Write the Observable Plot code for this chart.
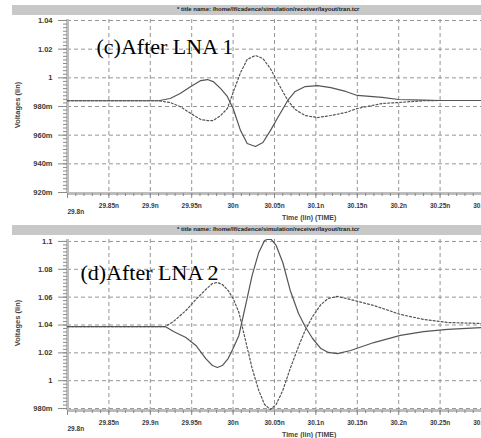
<!DOCTYPE html>
<html><head><meta charset="utf-8">
<script src="https://cdn.jsdelivr.net/npm/d3@7"></script>
<script src="https://cdn.jsdelivr.net/npm/@observablehq/plot@0.6"></script>
<style>
html,body{margin:0;padding:0;background:#fff;}
#wrap{position:relative;width:481px;height:438px;overflow:hidden;background:#fff;font-family:"Liberation Sans",Arial,sans-serif;}
.panel{position:absolute;left:0;width:481px;height:219px;}
.bar{position:absolute;left:12px;width:469px;height:10px;background:#c8c8c8;}
.bar span{position:absolute;left:165px;top:1px;font-size:6px;font-weight:bold;color:#222;white-space:nowrap;}
.ytitle{position:absolute;font-size:7.5px;font-weight:bold;color:#444;transform:translate(-50%,-50%) rotate(-90deg);white-space:nowrap;}
.xtitle{position:absolute;font-size:7px;font-weight:bold;color:#444;white-space:nowrap;transform:translate(0,-50%);}
</style>
</head><body>
<div id="wrap"></div>
<script>
// ---- data ----
const xTicks = [29.8, 29.85, 29.9, 29.95, 30.0, 30.05, 30.1, 30.15, 30.2, 30.25, 30.3];
const xTickLabels = ["29.8n", "29.85n", "29.9n", "29.95n", "30n", "30.05n", "30.1n", "30.15n", "30.2n", "30.25n", "30.3n"];

const yTicksC = [1.04, 1.02, 1.0, 0.98, 0.96, 0.94, 0.92];
const yLabelsC = ["1.04", "1.02", "1", "980m", "960m", "940m", "920m"];
const yTicksD = [1.1, 1.08, 1.06, 1.04, 1.02, 1.0, 0.98];
const yLabelsD = ["1.1", "1.08", "1.06", "1.04", "1.02", "1", "980m"];

// (c) After LNA 1 — time in ns
const tC = [29.80, 29.91, 29.924, 29.936, 29.949, 29.961, 29.969, 29.976, 29.985, 29.993, 30.000, 30.009, 30.017, 30.027, 30.036, 30.045, 30.054, 30.066, 30.075, 30.087, 30.102, 30.118, 30.136, 30.150, 30.180, 30.200, 30.230, 30.250, 30.300];
const vC1 = [0.984, 0.984, 0.9856, 0.9891, 0.9939, 0.9981, 0.9988, 0.9974, 0.9925, 0.9870, 0.9786, 0.9632, 0.9542, 0.9521, 0.9549, 0.9632, 0.9723, 0.9842, 0.9905, 0.9939, 0.9946, 0.9932, 0.9905, 0.9877, 0.9863, 0.9849, 0.9845, 0.9842, 0.9842];
const vC2 = [0.984, 0.984, 0.9828, 0.9800, 0.9751, 0.9709, 0.9702, 0.9702, 0.9737, 0.9786, 0.9898, 1.0037, 1.0128, 1.0156, 1.0135, 1.0065, 0.9967, 0.9842, 0.9779, 0.9737, 0.9723, 0.9737, 0.9758, 0.9786, 0.9821, 0.9828, 0.9840, 0.9842, 0.9842];

// (d) After LNA 2
const tD = [29.800, 29.918, 29.928, 29.943, 29.955, 29.967, 29.975, 29.981, 29.987, 29.994, 30.000, 30.007, 30.015, 30.023, 30.031, 30.038, 30.045, 30.052, 30.060, 30.069, 30.079, 30.087, 30.096, 30.106, 30.115, 30.126, 30.142, 30.170, 30.202, 30.230, 30.259, 30.300];
const vD1 = [1.0389, 1.0389, 1.0425, 1.0504, 1.0583, 1.0655, 1.0698, 1.0705, 1.0691, 1.0648, 1.0591, 1.0490, 1.0289, 1.0088, 0.9930, 0.9829, 0.9793, 0.9829, 0.9930, 1.0088, 1.0246, 1.0361, 1.0461, 1.0547, 1.0591, 1.0605, 1.0583, 1.0540, 1.0476, 1.0440, 1.0418, 1.0411];
const vD2 = [1.0389, 1.0389, 1.0353, 1.0310, 1.0253, 1.0159, 1.0109, 1.0095, 1.0109, 1.0159, 1.0231, 1.0325, 1.0540, 1.0756, 1.0921, 1.1007, 1.1022, 1.0971, 1.0849, 1.0648, 1.0483, 1.0389, 1.0303, 1.0231, 1.0203, 1.0195, 1.0217, 1.0274, 1.0325, 1.0353, 1.0368, 1.0382];

const panelTitles = ["(c)After LNA 1", "(d)After LNA 2"];
const barText = "* title name: /home/lf/cadence/simulation/receiver/layout/tran.tcr";
const yTitle = "Voltages (lin)";
const xTitle = "Time (lin) (TIME)";

// ---- drawing ----
const xLabelMap = new Map(xTicks.map((d, i) => [d, xTickLabels[i]]));
const minorX = d3.range(0, 51).map(i => +(29.8 + i * 0.01).toFixed(3));

function panel(cfg) {
  const lab = new Map(cfg.yTicks.map((d, i) => [d, cfg.yLabels[i]]));
  const [y0, y1] = cfg.yDomain;
  const minorY = d3.range(0, Math.round((y1 - y0) / 0.0025) + 1).map(i => y0 + i * 0.0025);
  const rows = [];
  cfg.t.forEach((t, i) => rows.push({t, v: cfg.v1[i], s: "a"}));
  cfg.t.forEach((t, i) => rows.push({t, v: cfg.v2[i], s: "b"}));
  const gridStyle = {stroke: "#959595", strokeOpacity: 1, strokeWidth: 1, strokeDasharray: "4,3"};
  const tickText = {fontSize: 7.5, fontWeight: "bold", fill: "#3a3a3a"};
  return Plot.plot({
    width: 481, height: 219,
    marginLeft: 67, marginRight: 0, marginTop: cfg.mt, marginBottom: cfg.mb,
    style: {background: "transparent", fontFamily: "'Liberation Sans', Arial, sans-serif", overflow: "visible"},
    x: {domain: [29.8, 30.3], label: null},
    y: {domain: cfg.yDomainPad, label: null},
    marks: [
      Plot.gridY(cfg.yTicks, gridStyle),
      Plot.gridX(xTicks.slice(1), gridStyle),
      Plot.ruleX([29.8], {stroke: "#bdbdbd", strokeWidth: 3}),
      Plot.ruleY([cfg.yDomainPad[0]], {stroke: "#bdbdbd", strokeWidth: 3}),
      Plot.axisY(minorY, {tickSize: 4, tickFormat: () => "", stroke: "#8a8a8a"}),
      Plot.axisY(cfg.yTicks, {tickSize: 9, tickPadding: 6, stroke: "#8a8a8a", tickFormat: d => lab.get(d), ...tickText}),
      Plot.axisX(minorX, {tickSize: 3, tickFormat: () => "", stroke: "#8a8a8a"}),
      Plot.axisX(xTicks.slice(1), {tickSize: 5, tickPadding: 5, stroke: "#8a8a8a", tickFormat: d => xLabelMap.get(d), ...tickText, fontSize: 6.5}),
      Plot.axisX([29.8], {tickSize: 5, tickPadding: 11, stroke: "#8a8a8a", textAnchor: "start", tickFormat: d => xLabelMap.get(d), ...tickText, fontSize: 6.5}),
      Plot.line(rows.filter(d => d.s === "a"), {x: "t", y: "v", stroke: "#555", strokeWidth: 1.2, strokeDasharray: cfg.dashA, clip: true}),
      Plot.line(rows.filter(d => d.s === "b"), {x: "t", y: "v", stroke: "#555", strokeWidth: 1.2, strokeDasharray: cfg.dashB, clip: true}),
      Plot.text([cfg.title], {frameAnchor: "top-left", dx: cfg.tdx, dy: cfg.tdy, lineAnchor: "top", textAnchor: "start",
        fontFamily: "'Liberation Serif', 'Times New Roman', serif", fontSize: 22, fill: "#000"})
    ]
  });
}

const wrap = document.getElementById("wrap");
const cfgs = [
  {top: 0, t: tC, v1: vC1, v2: vC2, yTicks: yTicksC, yLabels: yLabelsC, yDomain: [0.92, 1.04], yDomainPad: [0.9193, 1.0407],
   mt: 19, mb: 26, dashA: null, dashB: "2,2", title: panelTitles[0], tdx: 29, tdy: 19, barTop: 5, ytc: 105, xtt: 217},
  {top: 219, t: tD, v1: vD1, v2: vD2, yTicks: yTicksD, yLabels: yLabelsD, yDomain: [0.98, 1.1], yDomainPad: [0.9786, 1.1014],
   mt: 20, mb: 28, dashA: "2,2", dashB: null, title: panelTitles[1], tdx: 13, tdy: 25, barTop: 6, ytc: 104, xtt: 215}
];
cfgs.forEach(cfg => {
  const p = document.createElement("div");
  p.className = "panel";
  p.style.top = cfg.top + "px";
  const bar = document.createElement("div");
  bar.className = "bar";
  bar.style.top = cfg.barTop + "px";
  bar.innerHTML = "<span></span>";
  bar.firstChild.textContent = barText;
  p.appendChild(bar);
  const svg = panel(cfg);
  svg.style.position = "absolute";
  svg.style.left = "0px";
  svg.style.top = "0px";
  p.appendChild(svg);
  const yt = document.createElement("div");
  yt.className = "ytitle";
  yt.style.left = "17px";
  yt.style.top = cfg.ytc + "px";
  yt.textContent = yTitle;
  p.appendChild(yt);
  const xt = document.createElement("div");
  xt.className = "xtitle";
  xt.style.left = "282px";
  xt.style.top = cfg.xtt + "px";
  xt.textContent = xTitle;
  p.appendChild(xt);
  wrap.appendChild(p);
});
</script>
</body></html>
